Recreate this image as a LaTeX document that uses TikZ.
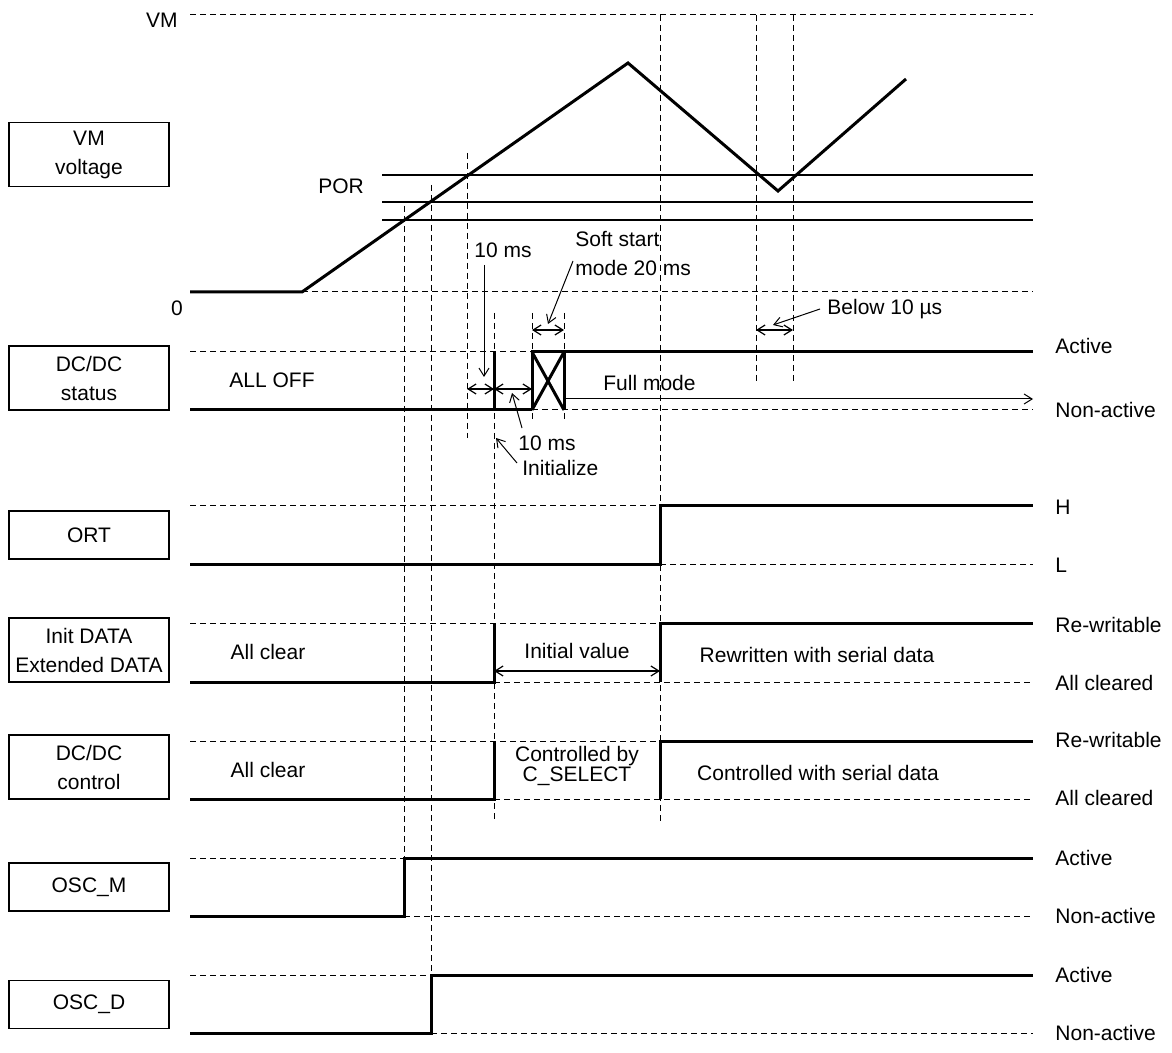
\documentclass[tikz,border=0pt]{standalone}
\usepackage{fontspec}
\setmainfont{Liberation Sans}
\usetikzlibrary{arrows.meta, positioning}

\begin{document}
\begin{tikzpicture}[x=0.5pt, y=-0.5pt,
    every node/.style={font=\fontsize{10.5}{14.5}\selectfont, inner sep=0pt},
    namebox/.style={draw, line width=0.6pt, minimum width=80pt, align=center},
    wave/.style={line width=1.5pt},
    level/.style={line width=0.5pt, dash pattern=on 3pt off 2pt},
    porline/.style={line width=0.6pt},
    span/.style={line width=0.6pt, {Straight Barb[length=4pt,width=5pt]}-{Straight Barb[length=4pt,width=5pt]}},
    pointer/.style={line width=0.5pt, -{Straight Barb[length=4pt,width=5pt]}}]
  \useasboundingbox (0,0) rectangle (1172,1053);

  % signal names
  \node[namebox, minimum height=32pt] (vmbox) at (89,154.7) {VM\\voltage};
  \node[namebox, minimum height=32pt] (dcstatus) at (89,378) {DC/DC\\status};
  \node[namebox, minimum height=24pt] (ort) at (89,535) {ORT};
  \node[namebox, minimum height=32pt] (initdata) at (89,650) {Init DATA\\Extended DATA};
  \node[namebox, minimum height=32pt] (dccontrol) at (89,767) {DC/DC\\control};
  \node[namebox, minimum height=24pt] (oscm) at (89,887) {OSC\_M};
  \node[namebox, minimum height=24pt] (oscd) at (89,1004.5) {OSC\_D};

  % VM voltage
  \draw[level] (190,15) -- (1033,15);
  \draw[level] (302,292) -- (1033,292);
  \node[anchor=east] (vmtop) at (178,20) {VM};
  \node (zero) at (177,308) {0};
  \foreach \y in {175,202,220}
    \draw[porline] (382,\y) -- (1033,\y);
  \node (por) at (341,186) {POR};
  \draw[wave] (190,292) -- (302,292) -- (628,63) -- (778,191) -- (906,79);

  % timing guides
  \foreach \x/\a/\b in {404/206/858, 431/185/975, 467/153/438, 494/313/822,
      532/313/420, 564/313/420, 660/15/822, 756/15/383, 793/15/383}
    \draw[level] (\x,\a) -- (\x,\b);

  % DC/DC status
  \draw[level] (190,352) -- (532,352) (532,410) -- (1033,410);
  \draw[wave] (190,410) -- (532,410);
  \draw[wave] (494,352) -- (494,410);
  \draw[wave] (532,410) -- (532,352) -- (1033,352);
  \draw[wave] (564,352) -- (564,410);
  \draw[wave] (532,352) -- (564,410) (532,410) -- (564,352);
  \node (alloff) at (272,380) {ALL OFF};
  \node[anchor=west] (fullmode) at (603,383) {Full mode};
  \draw[pointer] (564,399) -- (1033,399);

  \draw[span] (467,389) -- (494,389);
  \draw[span] (494,389) -- (532,389);
  \draw[span] (532,330) -- (564,330);
  \draw[span] (756,330) -- (793,330);

  \node (wait) at (503,250) {10 ms};
  \node[anchor=west, align=left] (softstart) at (575,254) {Soft start\\mode 20 ms};
  \node[anchor=west] (below) at (827,309) {Below 10 µs};
  \node[anchor=west] (initms) at (518,443) {10 ms};
  \node[anchor=west] (initialize) at (522,468) {Initialize};
  \coordinate (waittip) at (484,377);
  \coordinate (softtip) at (548,324);
  \coordinate (belowtip) at (773,325);
  \coordinate (initmstip) at (512,393);
  \coordinate (initializetip) at (496,438);
  \draw[pointer] (484,265) -- (waittip);
  \draw[pointer] (573,261) -- (softtip);
  \draw[pointer] (820,309) -- (belowtip);
  \draw[pointer] (522,428) -- (initmstip);
  \draw[pointer] (517,463) -- (initializetip);

  % ORT, OSC_M, OSC_D
  \foreach \hi/\lo/\t in {505/564/660, 858/916/404, 975/1033/431} {
    \draw[level] (190,\hi) -- (\t,\hi) (\t,\lo) -- (1033,\lo);
    \draw[wave] (190,\lo) -- (\t,\lo) -- (\t,\hi) -- (1033,\hi);
  }

  % Init DATA / DC/DC control
  \foreach \hi/\lo in {623/682, 741/799} {
    \draw[level] (190,\hi) -- (660,\hi) (494,\lo) -- (1033,\lo);
    \draw[wave] (190,\lo) -- (494,\lo) -- (494,\hi);
    \draw[wave] (660,\lo) -- (660,\hi) -- (1033,\hi);
  }
  \draw[span] (494,671) -- (660,671);
  \node (clearA) at (268,652) {All clear};
  \node (initval) at (577,651) {Initial value};
  \node (rewritten) at (817,655) {Rewritten with serial data};
  \node (clearB) at (268,770) {All clear};
  \node[align=center, font=\fontsize{10.5}{10}\selectfont] (cselect) at (577,766) {Controlled by\\C\_SELECT};
  \node (serialctl) at (818,773) {Controlled with serial data};

  % levels
  \foreach \y/\t in {346/Active, 410/Non-active, 507/H, 565/L, 625/Re-writable,
      683/All cleared, 740/Re-writable, 798/All cleared, 858/Active,
      916/Non-active, 975/Active, 1033/Non-active}
    \node[anchor=west] (lvl\y) at (1055,\y) {\t};
\end{tikzpicture}
\end{document}
